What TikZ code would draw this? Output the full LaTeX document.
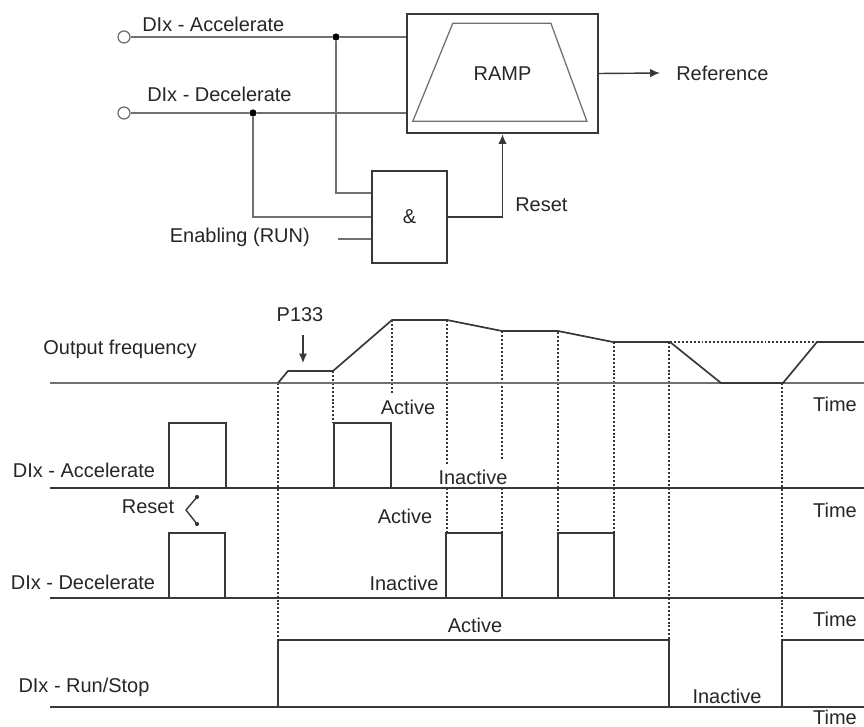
\documentclass[tikz,border=0pt]{standalone}
\usepackage{fontspec}
\setmainfont{Liberation Sans}
\usetikzlibrary{arrows.meta}
\definecolor{wiregray}{HTML}{707070}
\definecolor{sigdark}{HTML}{383838}
\definecolor{txtdark}{HTML}{262626}

\begin{document}
\begin{tikzpicture}[x=0.025cm,y=-0.025cm,
  font=\fontsize{14.2}{17}\selectfont,text=txtdark,
  wire/.style={wiregray,line width=0.9pt},
  sig/.style={sigdark,line width=1.4pt},
  guide/.style={sigdark,line width=1.5pt,dash pattern=on 1.4pt off 1.4pt},
  lbl/.style={inner sep=0pt},
  dotj/.style={circle,fill=black,inner sep=0pt,minimum size=0.18cm},
  port/.style={circle,draw=wiregray,fill=white,line width=0.9pt,inner sep=0pt,minimum size=0.3cm},
  block/.style={draw=sigdark,line width=1.6pt,minimum width=4.775cm,minimum height=2.975cm},
  gate/.style={draw=sigdark,line width=1.3pt,minimum width=1.875cm,minimum height=2.3cm},
  tip/.style={-{Latex[length=7pt,width=6pt]}}]
\useasboundingbox (0,0) rectangle (864,727);
\pgfmathsetmacro{\fBase}{383}
\pgfmathsetmacro{\aBase}{488}
\pgfmathsetmacro{\aHigh}{423}
\pgfmathsetmacro{\dBase}{598}
\pgfmathsetmacro{\dHigh}{533}
\pgfmathsetmacro{\rBase}{707}
\pgfmathsetmacro{\rHigh}{640}

\node[block] (ramp) at (502.5,73.5) {RAMP};
\draw[wire] ([shift={(7,-13)}]ramp.south west) -- ++(40,-98) -- ++(98,0) -- ++(36,98) -- cycle;
\node[lbl,anchor=west] (refTxt) at (676,73) {Reference};
\draw[sig,line width=1pt,tip] (ramp.east) -- ([xshift=-0.4cm]refTxt.west);

\node[gate] (andg) at (409.5,217) {\&};
\node[port] (accIn) at (124,37) {};
\node[lbl,anchor=west] (accTxt) at (142,24) {DIx - Accelerate};
\node[dotj] (accJ) at (336,37) {};
\node[port] (decIn) at (124,113) {};
\node[lbl,anchor=west] (decTxt) at (147,94) {DIx - Decelerate};
\node[dotj] (decJ) at (253,113) {};
\coordinate (enIn) at (338,239);
\node[lbl,anchor=east] (enTxt) at (310,237) {Enabling (RUN)};
\node[lbl,anchor=west] (resTxt) at (515,205) {Reset};

\draw[wire] (accIn) -- (accJ) -- (accJ -| ramp.west);
\draw[wire] (accJ) |- ([yshift=0.6cm]andg.west);
\draw[wire] (decIn) -- (decJ) -- (decJ -| ramp.west);
\draw[wire] (decJ) |- (andg.west);
\draw[wire] (enIn) -- (enIn -| andg.west);
\draw[sig,line width=1.2pt,tip] (andg.east) -| (ramp.south);

\foreach \gx/\gy/\gz in {278/383/640,333/371/423,392/320/393,447/320/465,447/488/533,502/331/460,502/488/533,558/332/533,614/342/533,669/342/640,782/383/640}
  \draw[guide] (\gx,\gy) -- (\gx,\gz);

\node[lbl] (freqTxt) at (120,349) {Output frequency};
\node[lbl] (pTxt) at (300,315) {P133};
\draw[sig,line width=1.8pt,tip] ([shift={(3,13)}]pTxt.south) -- ++(0,28);
\draw[wire,line width=1.2pt] (50,\fBase) -- (864,\fBase);
\draw[sig,line width=1.2pt] (278,\fBase) -- (288,371) -- (333,371) -- (392,320) -- (447,320) -- (502,331) -- (558,331)
  -- (613,342) -- (670,342) -- (721,\fBase) -- (783,\fBase) -- (817,342) -- (864,342);
\draw[guide] (670,342) -- (817,342);

\node[lbl] (accLbl) at (84,470) {DIx - Accelerate};
\node[lbl] (accOn) at (408,407) {Active};
\node[lbl] (accOff) at (473,477) {Inactive};
\draw[sig] (50,\aBase) -- (864,\aBase);
\foreach \px in {169,334}
  \draw[sig] (\px,\aBase) |- (\px+57,\aHigh) -- (\px+57,\aBase);

\node[lbl] (resLbl) at (148,507) {Reset};
\draw[sigdark,line width=1pt] (197,497) -- (186,510) -- (197,524);
\fill[sigdark] (197,497) circle (1.5pt) (197,524) circle (1.5pt);

\node[lbl] (decLbl) at (83,582) {DIx - Decelerate};
\node[lbl] (decOn) at (405,516) {Active};
\node[lbl] (decOff) at (404,583) {Inactive};
\draw[sig] (50,\dBase) -- (864,\dBase);
\foreach \px in {169,446,558}
  \draw[sig] (\px,\dBase) |- (\px+56,\dHigh) -- (\px+56,\dBase);

\node[lbl] (runLbl) at (84,687) {DIx - Run/Stop};
\node[lbl] (runOn) at (475,625) {Active};
\node[lbl] (runOff) at (727,696) {Inactive};
\draw[sig] (50,\rBase) -- (864,\rBase);
\draw[sig] (278,\rBase) |- (669,\rHigh) -- (669,\rBase);
\draw[sig] (782,\rBase) |- (864,\rHigh);

\foreach \ty [count=\i] in {404,510,619,717}
  \node[lbl] (time\i) at (835,\ty) {Time};
\end{tikzpicture}
\end{document}
